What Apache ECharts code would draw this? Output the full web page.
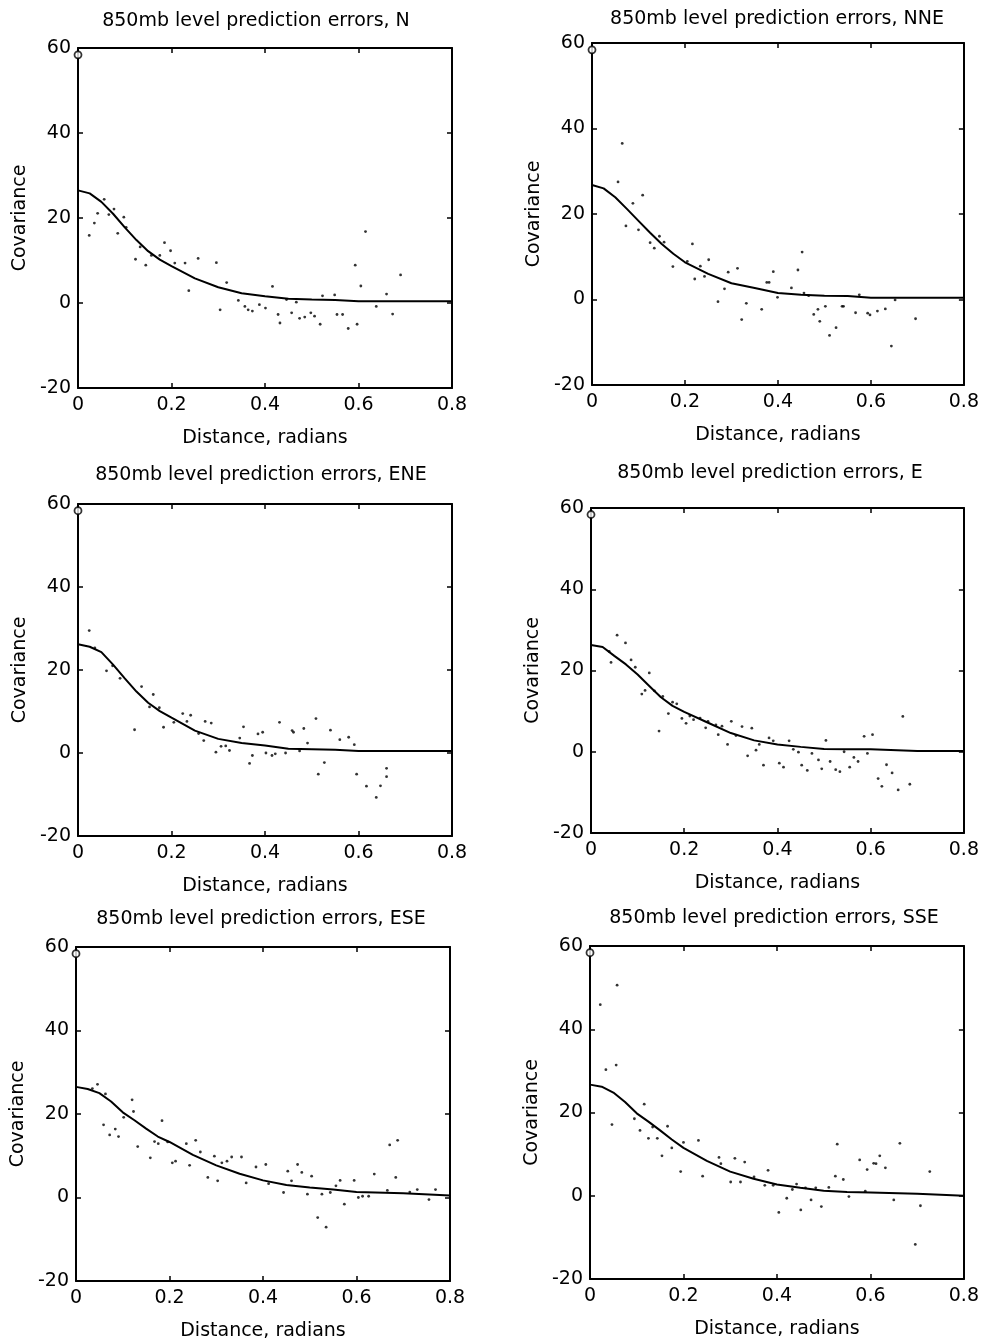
<!DOCTYPE html>
<html>
<head>
<meta charset="utf-8">
<script src="https://cdn.jsdelivr.net/npm/echarts@6/dist/echarts.min.js"></script>
<style>
html,body{margin:0;padding:0;background:#fff;}
#chart{width:982px;height:1342px;}
</style>
</head>
<body>
<div id="chart"></div>
<script>
// ---------- data ----------
var panelTitles = [
  "850mb level prediction errors, N",
  "850mb level prediction errors, NNE",
  "850mb level prediction errors, ENE",
  "850mb level prediction errors, E",
  "850mb level prediction errors, ESE",
  "850mb level prediction errors, SSE"
];
var xTicks = [0, 0.2, 0.4, 0.6, 0.8];
var yTicks = [-20, 0, 20, 40, 60];
var xAxisTitle = "Distance, radians";
var yAxisTitle = "Covariance";

// variance at zero distance (open circle)
var zeroVar = [58.4, 58.4, 58.4, 58.4, 58.4, 58.4];

// fitted covariance curve
var fitX = [0, 0.025, 0.05, 0.075, 0.1, 0.125, 0.15, 0.175, 0.2, 0.25, 0.3, 0.35, 0.4, 0.45, 0.5, 0.55, 0.6, 0.7, 0.8];
var fitN   = [26.5, 25.8, 23.8, 21.0, 17.8, 14.8, 12.2, 10.2, 8.7, 5.8, 3.7, 2.3, 1.6, 1.0, 0.8, 0.7, 0.4, 0.4, 0.4];
var fitNNE = [26.8, 26.0, 23.9, 21.2, 18.4, 15.6, 13.0, 10.7, 8.7, 6.0, 3.8, 2.7, 1.5, 1.1, 0.9, 0.8, 0.4, 0.4, 0.4];
var fitENE = [26.2, 25.6, 24.3, 21.3, 18.0, 14.8, 12.1, 10.1, 8.5, 5.4, 3.4, 2.4, 1.8, 1.0, 0.9, 0.8, 0.5, 0.5, 0.5];
var fitE   = [26.3, 25.8, 23.6, 21.5, 19.0, 16.2, 13.4, 11.3, 9.8, 7.2, 4.6, 2.8, 1.8, 1.2, 0.7, 0.6, 0.6, 0.2, 0.2];
var fitESE = [26.5, 26.0, 25.0, 23.0, 20.4, 18.5, 16.5, 14.6, 13.3, 10.2, 7.7, 5.7, 4.1, 3.0, 2.4, 1.9, 1.3, 1.0, 0.5];
var fitSSE = [26.7, 26.2, 24.8, 22.5, 19.8, 17.8, 15.7, 13.5, 11.5, 8.4, 5.8, 4.1, 2.7, 1.9, 1.2, 0.9, 0.8, 0.5, 0.0];

// empirical covariance points: distances and values
var ptsNx = [0.024,0.035,0.042,0.056,0.066,0.077,0.085,0.098,0.103,0.123,0.133,0.145,0.157,0.175,0.185,0.198,0.207,0.229,0.237,0.257,0.296,0.304,0.318,0.343,0.357,0.364,0.373,0.388,0.401,0.416,0.428,0.432,0.446,0.457,0.467,0.474,0.485,0.498,0.506,0.518,0.523,0.549,0.554,0.566,0.578,0.593,0.597,0.605,0.615,0.638,0.660,0.673,0.690];
var ptsNy = [15.9,18.8,21.1,24.4,20.8,22.1,16.4,20.2,17.8,10.3,13.2,8.9,11.2,11.2,14.2,12.3,9.4,9.4,2.9,10.5,9.5,-1.6,4.8,0.6,-0.8,-1.6,-1.9,-0.4,-1.2,3.9,-2.7,-4.7,0.8,-2.3,0.2,-3.6,-3.3,-2.3,-3.1,-5.0,1.7,1.9,-2.7,-2.7,-6.0,8.9,-5.0,4.0,16.8,-0.8,2.1,-2.6,6.6];

var ptsNNEx = [0.056,0.065,0.073,0.088,0.100,0.109,0.125,0.134,0.145,0.155,0.174,0.205,0.216,0.221,0.233,0.242,0.251,0.271,0.285,0.293,0.313,0.322,0.332,0.365,0.376,0.381,0.390,0.399,0.429,0.443,0.452,0.456,0.466,0.477,0.486,0.490,0.502,0.511,0.525,0.538,0.541,0.567,0.575,0.593,0.598,0.614,0.631,0.644,0.652,0.696];
var ptsNNEy = [27.5,36.5,17.2,22.5,16.3,24.4,13.3,12.0,14.8,13.4,7.7,8.9,13.0,4.8,7.8,5.4,9.3,-0.5,2.5,6.4,7.3,-4.7,-0.9,-2.3,4.0,4.0,6.5,0.5,2.7,6.9,11.1,1.5,0.9,-3.5,-2.3,-5.1,-1.6,-8.4,-6.6,-1.6,-1.6,-3.1,1.1,-3.2,-3.6,-2.7,-2.2,-10.9,-0.1,-4.5];

var ptsENEx = [0.024,0.036,0.061,0.074,0.090,0.121,0.136,0.153,0.161,0.174,0.183,0.205,0.224,0.233,0.241,0.258,0.269,0.272,0.285,0.295,0.306,0.316,0.324,0.346,0.354,0.367,0.373,0.385,0.395,0.402,0.415,0.422,0.431,0.444,0.458,0.461,0.474,0.483,0.491,0.509,0.514,0.527,0.540,0.560,0.579,0.591,0.596,0.617,0.638,0.647,0.660,0.660];
var ptsENEy = [29.5,25.3,19.8,21.0,18.0,5.6,16.0,11.1,14.1,10.9,6.2,7.4,9.5,7.6,9.1,4.7,3.0,7.6,7.2,0.2,1.6,1.7,0.6,3.6,6.3,-2.5,-0.6,4.6,5.0,0.0,-0.6,-0.2,7.4,0.0,5.4,5.0,0.5,5.9,2.4,8.3,-5.1,-2.3,5.5,3.2,3.8,2.0,-5.1,-8.0,-10.7,-7.9,-3.7,-5.7];

var ptsEx = [0.039,0.043,0.056,0.074,0.086,0.095,0.109,0.116,0.125,0.136,0.146,0.154,0.166,0.175,0.184,0.195,0.204,0.212,0.220,0.234,0.246,0.251,0.268,0.273,0.281,0.293,0.301,0.311,0.324,0.336,0.345,0.354,0.361,0.370,0.382,0.391,0.404,0.413,0.425,0.434,0.445,0.452,0.464,0.474,0.488,0.495,0.504,0.513,0.525,0.534,0.543,0.555,0.564,0.573,0.586,0.593,0.604,0.616,0.624,0.634,0.646,0.659,0.669,0.684];
var ptsEy = [24.7,22.0,28.7,26.8,22.6,20.8,14.2,15.1,19.4,15.0,5.1,13.6,9.4,12.2,11.8,8.2,7.0,8.8,7.9,8.3,5.9,7.5,6.6,4.2,6.3,1.8,7.5,4.0,6.2,-1.0,5.8,0.4,1.8,-3.3,3.4,2.7,-2.8,-3.8,2.7,0.6,-0.1,-3.3,-4.6,-0.4,-2.0,-4.2,2.8,-2.4,-4.4,-4.9,0.0,-3.8,-1.4,-2.4,3.8,-0.4,4.2,-6.6,-8.5,-3.2,-5.2,-9.4,8.7,-8.0];

var ptsESEx = [0.035,0.046,0.059,0.063,0.072,0.084,0.091,0.102,0.120,0.123,0.132,0.159,0.168,0.176,0.184,0.196,0.206,0.213,0.236,0.243,0.256,0.266,0.282,0.296,0.303,0.312,0.323,0.333,0.354,0.364,0.385,0.406,0.412,0.444,0.453,0.461,0.474,0.483,0.495,0.504,0.517,0.526,0.535,0.544,0.556,0.565,0.574,0.595,0.604,0.613,0.626,0.638,0.666,0.671,0.684,0.688,0.714,0.730,0.755,0.769];
var ptsESEy = [26.1,27.1,17.4,24.8,15.0,16.4,14.6,19.2,23.4,20.6,12.2,9.5,13.4,12.9,18.4,13.3,8.3,8.7,12.9,7.7,13.7,10.9,4.8,9.9,4.0,8.3,8.7,9.7,9.7,3.5,7.3,7.9,3.3,1.2,6.3,4.0,7.9,6.0,0.8,5.1,-4.8,0.8,-7.1,1.2,2.8,4.1,-1.6,4.1,0.0,0.3,0.3,5.6,1.7,12.6,4.8,13.7,1.3,1.9,-0.5,1.9];

var ptsSSEx = [0.022,0.034,0.047,0.056,0.058,0.095,0.107,0.116,0.125,0.134,0.144,0.154,0.166,0.175,0.194,0.200,0.232,0.241,0.276,0.280,0.301,0.310,0.322,0.331,0.351,0.374,0.381,0.392,0.404,0.421,0.433,0.442,0.451,0.461,0.473,0.483,0.495,0.511,0.525,0.529,0.542,0.554,0.577,0.589,0.593,0.607,0.612,0.620,0.632,0.650,0.663,0.696,0.707,0.727];
var ptsSSEy = [45.9,30.3,17.1,31.4,50.6,18.5,15.7,22.0,13.8,16.5,13.8,9.6,16.7,11.5,5.8,12.8,13.3,4.7,9.2,7.7,3.3,9.0,3.3,8.1,4.5,2.5,6.1,2.5,-4.0,-0.6,1.5,2.8,-3.4,1.9,-1.0,1.9,-2.6,2.0,4.7,12.4,3.9,-0.2,8.6,1.1,6.3,7.8,7.7,9.6,6.7,-1.0,12.6,-11.7,-2.4,5.8];

var fits = [fitN, fitNNE, fitENE, fitE, fitESE, fitSSE];
var ptsX = [ptsNx, ptsNNEx, ptsENEx, ptsEx, ptsESEx, ptsSSEx];
var ptsY = [ptsNy, ptsNNEy, ptsENEy, ptsEy, ptsESEy, ptsSSEy];

// ---------- layout ----------
var grids = [
  {left: 78,  top: 48,  width: 374, height: 340},
  {left: 592, top: 43,  width: 374, height: 342},
  {left: 78,  top: 504, width: 374, height: 332},
  {left: 591, top: 508, width: 373, height: 325},
  {left: 76,  top: 947, width: 374, height: 335},
  {left: 590, top: 946, width: 374, height: 333}
];
var titlePos = [
  {x: 256, y: 12}, {x: 777, y: 10},
  {x: 261, y: 466}, {x: 770, y: 464},
  {x: 261, y: 910}, {x: 774, y: 909}
];

var FONT = "DejaVu Sans";
var FS = 19;
var ink = "#000";

function zip(a, b) { return a.map(function (v, i) { return [v, b[i]]; }); }

var option = {
  backgroundColor: "#fff",
  animation: false,
  title: [], grid: [], xAxis: [], yAxis: [], series: []
};

grids.forEach(function (g, i) {
  option.title.push({
    text: panelTitles[i], left: titlePos[i].x, top: titlePos[i].y, textAlign: "center", padding: 0,
    textStyle: {fontFamily: FONT, fontSize: FS, fontWeight: "normal", color: ink}
  });
  option.grid.push({left: g.left, top: g.top, width: g.width, height: g.height, containLabel: false});
  var common = {
    type: "value", gridIndex: i, min: xTicks[0], max: xTicks[xTicks.length - 1], interval: 0.2,
    axisLine: {show: true, onZero: false, lineStyle: {color: ink, width: 2}},
    axisTick: {show: true, inside: true, length: 5, lineStyle: {color: ink, width: 1.5}},
    splitLine: {show: false}
  };
  option.xAxis.push(Object.assign({}, common, {
    position: "bottom",
    name: xAxisTitle, nameLocation: "middle", nameGap: 41,
    nameTextStyle: {fontFamily: FONT, fontSize: FS, color: ink},
    axisLabel: {show: true, margin: 8, fontFamily: FONT, fontSize: FS, color: ink,
      formatter: function (v) { return String(Math.round(v * 10) / 10); }}
  }));
  option.xAxis.push(Object.assign({}, common, {position: "top", axisLabel: {show: false}}));
  var ycommon = {
    type: "value", gridIndex: i, min: yTicks[0], max: yTicks[yTicks.length - 1], interval: 20,
    axisLine: {show: true, onZero: false, lineStyle: {color: ink, width: 2}},
    axisTick: {show: true, inside: true, length: 5, lineStyle: {color: ink, width: 1.5}},
    splitLine: {show: false}
  };
  option.yAxis.push(Object.assign({}, ycommon, {
    position: "left",
    name: yAxisTitle, nameLocation: "middle", nameGap: 48,
    nameTextStyle: {fontFamily: FONT, fontSize: FS, color: ink},
    axisLabel: {show: true, margin: 7, fontFamily: FONT, fontSize: FS, color: ink}
  }));
  option.yAxis.push(Object.assign({}, ycommon, {position: "right", axisLabel: {show: false}}));

  var xi = i * 2, yi = i * 2;
  option.series.push({
    type: "line", xAxisIndex: xi, yAxisIndex: yi, data: zip(fitX, fits[i]),
    showSymbol: false, symbol: "none", smooth: false,
    lineStyle: {color: ink, width: 2}, z: 3
  });
  option.series.push({
    type: "scatter", xAxisIndex: xi, yAxisIndex: yi, data: zip(ptsX[i], ptsY[i]),
    symbol: "circle", symbolSize: 2.8, itemStyle: {color: ink}, z: 4
  });
  option.series.push({
    type: "scatter", xAxisIndex: xi, yAxisIndex: yi, data: [[0, zeroVar[i]]],
    symbol: "circle", symbolSize: 7, clip: false,
    itemStyle: {color: "#fff", borderColor: ink, borderWidth: 1.8}, z: 5
  });
});

var chart = echarts.init(document.getElementById("chart"), null, {renderer: "canvas"});
chart.setOption(option);
</script>
</body>
</html>
